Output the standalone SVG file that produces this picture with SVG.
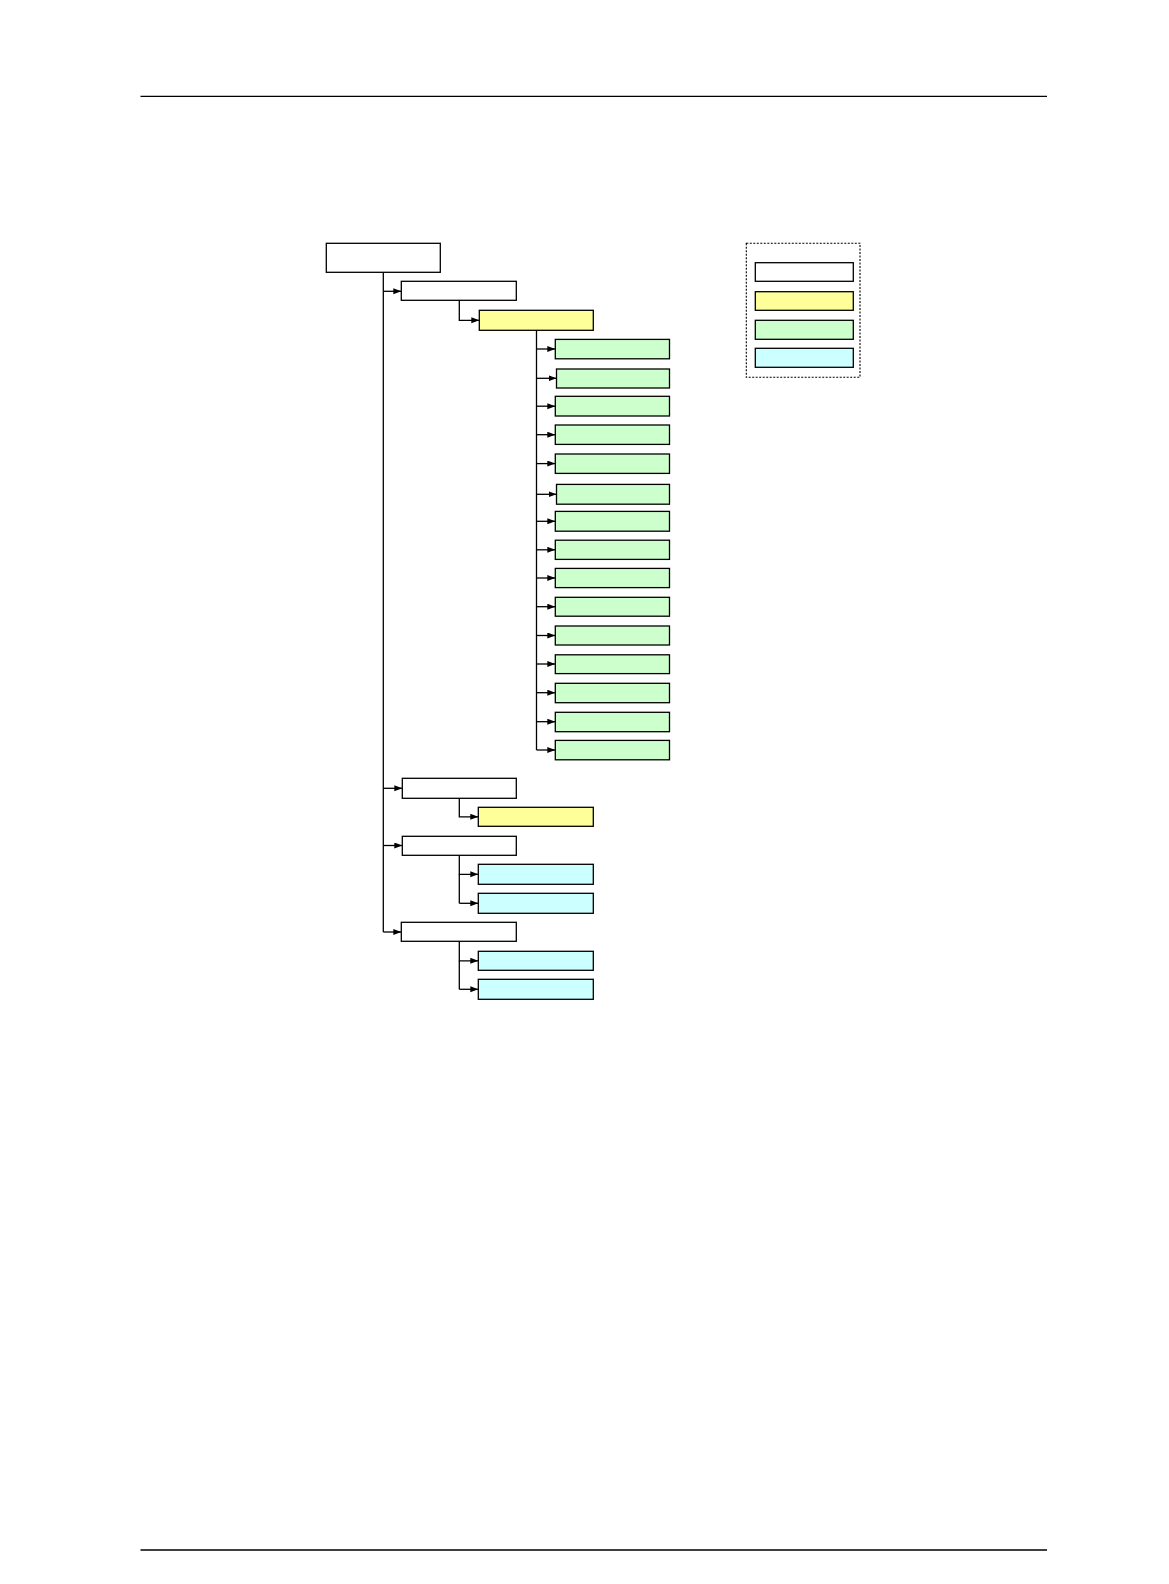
<svg xmlns="http://www.w3.org/2000/svg" width="1169" height="1584" viewBox="0 0 1169 1584">
<style>
.box{stroke:#000;stroke-width:1.3}
.w{fill:#fff}.y{fill:#ffff99}.g{fill:#ccffcc}.c{fill:#ccffff}
.ln{fill:none;stroke:#000;stroke-width:1.3}
.ar{fill:none;stroke:#000;stroke-width:1.3;marker-end:url(#ah)}
</style>
<defs>
<marker id="ah" markerUnits="userSpaceOnUse" markerWidth="9" markerHeight="7" refX="8" refY="3" orient="auto">
<path d="M0,0 L8,3 L0,6 z" fill="#000"/>
</marker>
</defs>
<rect width="1169" height="1584" fill="#fff"/>
<g id="page-rules">
<line x1="140.5" y1="96.3" x2="1047" y2="96.3" class="ln"/>
<line x1="140.5" y1="1550" x2="1047" y2="1550" class="ln"/>
</g>
<g id="connectors">
<path class="ln" d="M383.3,272.3 V932"/>
<path class="ar" d="M383.3,291.3 H401.3"/>
<path class="ar" d="M383.3,788.3 H402.3"/>
<path class="ar" d="M383.3,845.5 H402.3"/>
<path class="ar" d="M383.3,932 H401.3"/>
<path class="ar" d="M459.3,300.3 V320.3 H479.3"/>
<path class="ln" d="M536.5,330.3 V750"/>
<path class="ar" d="M536.5,349 H555.3"/>
<path class="ar" d="M536.5,378.3 H556.5"/>
<path class="ar" d="M536.5,406.2 H555.3"/>
<path class="ar" d="M536.5,434.7 H555.3"/>
<path class="ar" d="M536.5,463.6 H555.3"/>
<path class="ar" d="M536.5,494.3 H556.5"/>
<path class="ar" d="M536.5,521.3 H555.3"/>
<path class="ar" d="M536.5,549.8 H555.3"/>
<path class="ar" d="M536.5,578 H555.3"/>
<path class="ar" d="M536.5,606.7 H555.3"/>
<path class="ar" d="M536.5,635.5 H555.3"/>
<path class="ar" d="M536.5,664 H555.3"/>
<path class="ar" d="M536.5,692.7 H555.3"/>
<path class="ar" d="M536.5,721.7 H555.3"/>
<path class="ar" d="M536.5,750 H555.3"/>
<path class="ar" d="M459.3,798.3 V816.8 H478.3"/>
<path class="ar" d="M459.3,855.3 V874.3 H478.3"/>
<path class="ln" d="M459.3,874.3 V903.3"/>
<path class="ar" d="M459.3,903.3 H478.3"/>
<path class="ar" d="M459.3,941.3 V960.8 H478.3"/>
<path class="ln" d="M459.3,960.8 V989.3"/>
<path class="ar" d="M459.3,989.3 H478.3"/>
</g>
<g id="root"><rect class="box w" x="326.3" y="243.3" width="114" height="29"/></g>
<g id="n1"><rect class="box w" x="401.3" y="281.3" width="115" height="19"/></g>
<g id="n1-1"><rect class="box y" x="479.3" y="310.3" width="114" height="20"/></g>
<g id="g1"><rect class="box g" x="555.3" y="339.4" width="114.2" height="19.4"/></g>
<g id="g2"><rect class="box g" x="556.5" y="369" width="113" height="19"/></g>
<g id="g3"><rect class="box g" x="555.3" y="396.3" width="114.2" height="19.7"/></g>
<g id="g4"><rect class="box g" x="555.3" y="425" width="114.2" height="19.4"/></g>
<g id="g5"><rect class="box g" x="555.3" y="454" width="114.2" height="19.4"/></g>
<g id="g6"><rect class="box g" x="556.5" y="484.4" width="113" height="19.8"/></g>
<g id="g7"><rect class="box g" x="555.3" y="511.4" width="114.2" height="19.8"/></g>
<g id="g8"><rect class="box g" x="555.3" y="540.2" width="114.2" height="19.2"/></g>
<g id="g9"><rect class="box g" x="555.3" y="568.4" width="114.2" height="19.2"/></g>
<g id="g10"><rect class="box g" x="555.3" y="597.3" width="114.2" height="18.9"/></g>
<g id="g11"><rect class="box g" x="555.3" y="626" width="114.2" height="19"/></g>
<g id="g12"><rect class="box g" x="555.3" y="654.8" width="114.2" height="18.8"/></g>
<g id="g13"><rect class="box g" x="555.3" y="683.3" width="114.2" height="19.4"/></g>
<g id="g14"><rect class="box g" x="555.3" y="712.3" width="114.2" height="19.4"/></g>
<g id="g15"><rect class="box g" x="555.3" y="740.4" width="114.2" height="19.4"/></g>
<g id="n2"><rect class="box w" x="402.3" y="778.3" width="114" height="20"/></g>
<g id="n2-1"><rect class="box y" x="478.3" y="807.3" width="115" height="19"/></g>
<g id="n3"><rect class="box w" x="402.3" y="836.3" width="114" height="19"/></g>
<g id="n3-1"><rect class="box c" x="478.3" y="864.3" width="115" height="20"/></g>
<g id="n3-2"><rect class="box c" x="478.3" y="893.3" width="115" height="20"/></g>
<g id="n4"><rect class="box w" x="401.3" y="922.3" width="115" height="19"/></g>
<g id="n4-1"><rect class="box c" x="478.3" y="951.3" width="115" height="19"/></g>
<g id="n4-2"><rect class="box c" x="478.3" y="979.3" width="115" height="20"/></g>
<g id="legend">
<rect x="746.3" y="243.3" width="113.7" height="134" fill="none" stroke="#000" stroke-width="1.1" stroke-dasharray="2,1.5"/>
<rect class="box w" x="755.3" y="262.7" width="98" height="18.6"/>
<rect class="box y" x="755.3" y="291.7" width="98" height="18.6"/>
<rect class="box g" x="755.3" y="320.3" width="98" height="19"/>
<rect class="box c" x="755.3" y="348.3" width="98" height="19"/>
</g>
</svg>
